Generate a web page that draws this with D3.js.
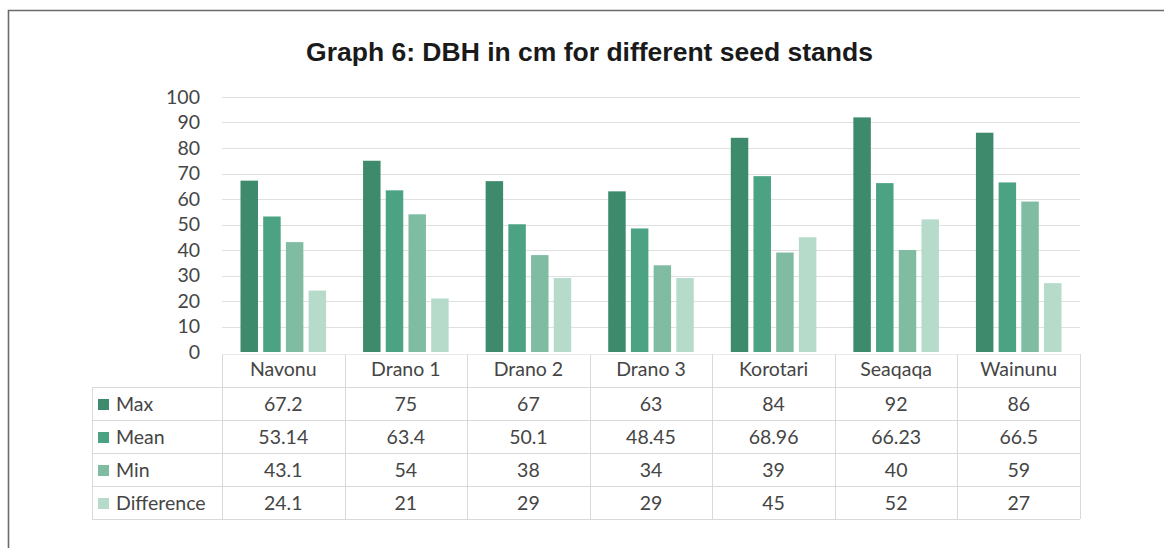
<!DOCTYPE html>
<html>
<head>
<meta charset="utf-8">
<script src="https://cdn.jsdelivr.net/npm/d3@7"></script>
<style>
  html, body { margin: 0; padding: 0; background: #ffffff; }
  svg { display: block; }
</style>
</head>
<body>
<svg id="chart" width="1164" height="548"></svg>
<script>
// ---- Data ----
const categories = ["Navonu", "Drano 1", "Drano 2", "Drano 3", "Korotari", "Seaqaqa", "Wainunu"];
const seriesNames = ["Max", "Mean", "Min", "Difference"];
const maxValues = [67.2, 75, 67, 63, 84, 92, 86];
const meanValues = [53.14, 63.4, 50.1, 48.45, 68.96, 66.23, 66.5];
const minValues = [43.1, 54, 38, 34, 39, 40, 59];
const differenceValues = [24.1, 21, 29, 29, 45, 52, 27];
const yTickValues = [0, 10, 20, 30, 40, 50, 60, 70, 80, 90, 100];
const titleText = "Graph 6: DBH in cm for different seed stands";

const seriesValues = [maxValues, meanValues, minValues, differenceValues];
const colors = ["#3d8a6c", "#4ca383", "#7fbca2", "#b6dbcb"];

// ---- Layout ----
const svg = d3.select("#chart");
const plotLeft = 222, plotRight = 1080, plotTop = 97, plotBottom = 352;
const tableLeft = 92;
const rowH = 33;
const headerBottom = 387;

const x0 = d3.scaleBand().domain(categories).range([plotLeft, plotRight]).padding(0);
const x1 = d3.scaleBand().domain(seriesNames)
  .range([18.5, x0.bandwidth() - 18.5]).paddingInner(0.23).paddingOuter(0);
const y = d3.scaleLinear().domain([0, 100]).range([plotBottom, plotTop]);

const font = "Lato, 'Open Sans', sans-serif";
const fs = 19.5;
const textColor = "#454545";

// frame
svg.append("path")
  .attr("d", `M8.5,548 L8.5,10.5 L1164,10.5`)
  .attr("fill", "none").attr("stroke", "#6b6b6b").attr("stroke-width", 1.6);

// title
const title = svg.append("text")
  .attr("x", 589.5).attr("y", 61)
  .attr("text-anchor", "middle")
  .attr("font-family", "'Liberation Sans', Arial, sans-serif")
  .attr("font-weight", "bold")
  .attr("font-size", 26.5)
  .attr("fill", "#1a1a1a")
  .text(titleText);
const tl = title.node().getComputedTextLength();
if (tl > 569) title.attr("textLength", 569).attr("lengthAdjust", "spacingAndGlyphs");

// gridlines
svg.append("g")
  .selectAll("line")
  .data(yTickValues.filter(d => d > 0))
  .join("line")
  .attr("x1", plotLeft).attr("x2", plotRight)
  .attr("y1", d => Math.round(y(d)) + 0.5).attr("y2", d => Math.round(y(d)) + 0.5)
  .attr("stroke", "#e0e0e0").attr("stroke-width", 1);

// y axis
const yAxis = svg.append("g")
  .attr("transform", `translate(${plotLeft},0)`)
  .call(d3.axisLeft(y).tickValues(yTickValues).tickSize(0).tickPadding(22));
yAxis.select(".domain").remove();
yAxis.selectAll("text")
  .attr("font-family", font).attr("font-size", fs).attr("fill", textColor);

// bars
const groups = svg.append("g").selectAll("g")
  .data(categories)
  .join("g")
  .attr("transform", d => `translate(${x0(d)},0)`);

groups.selectAll("rect")
  .data((c, ci) => seriesNames.map((s, si) => ({ s, v: seriesValues[si][ci], si })))
  .join("rect")
  .attr("x", d => x1(d.s))
  .attr("width", x1.bandwidth())
  .attr("y", d => y(d.v))
  .attr("height", d => y(0) - y(d.v))
  .attr("fill", d => colors[d.si]);

// ---- Data table ----
const gridColor = "#d9d9d9";
const tg = svg.append("g");
const tableBottom = headerBottom + rowH * seriesNames.length;

tg.append("line")
  .attr("x1", plotLeft).attr("x2", plotRight)
  .attr("y1", plotBottom + 2.5).attr("y2", plotBottom + 2.5)
  .attr("stroke", "#ebebeb");
for (let r = 0; r <= seriesNames.length; r++) {
  const yy = headerBottom + r * rowH + 0.5;
  tg.append("line")
    .attr("x1", tableLeft).attr("x2", plotRight)
    .attr("y1", yy).attr("y2", yy)
    .attr("stroke", gridColor);
}
tg.append("line")
  .attr("x1", tableLeft + 0.5).attr("x2", tableLeft + 0.5)
  .attr("y1", headerBottom).attr("y2", tableBottom)
  .attr("stroke", gridColor);
categories.forEach((c, i) => {
  const xx = Math.round(x0(c)) + 0.5;
  tg.append("line")
    .attr("x1", xx).attr("x2", xx)
    .attr("y1", plotBottom + 2).attr("y2", tableBottom)
    .attr("stroke", gridColor);
});
tg.append("line")
  .attr("x1", plotRight + 0.5).attr("x2", plotRight + 0.5)
  .attr("y1", plotBottom + 2).attr("y2", tableBottom)
  .attr("stroke", gridColor);

// header labels
tg.selectAll("text.hdr")
  .data(categories)
  .join("text")
  .attr("class", "hdr")
  .attr("x", d => x0(d) + x0.bandwidth() / 2)
  .attr("y", headerBottom - 11)
  .attr("text-anchor", "middle")
  .attr("font-family", font).attr("font-size", fs).attr("fill", textColor)
  .text(d => d);

// rows
seriesNames.forEach((s, si) => {
  const rowTop = headerBottom + si * rowH;
  tg.append("rect")
    .attr("x", 98).attr("y", rowTop + 12)
    .attr("width", 11).attr("height", 11)
    .attr("fill", colors[si]);
  tg.append("text")
    .attr("x", 116).attr("y", rowTop + 23.5)
    .attr("font-family", font).attr("font-size", fs).attr("fill", textColor)
    .text(s);
  categories.forEach((c, ci) => {
    tg.append("text")
      .attr("x", x0(c) + x0.bandwidth() / 2)
      .attr("y", rowTop + 23.5)
      .attr("text-anchor", "middle")
      .attr("font-family", font).attr("font-size", fs).attr("fill", textColor)
      .text(String(seriesValues[si][ci]));
  });
});
</script>
</body>
</html>
